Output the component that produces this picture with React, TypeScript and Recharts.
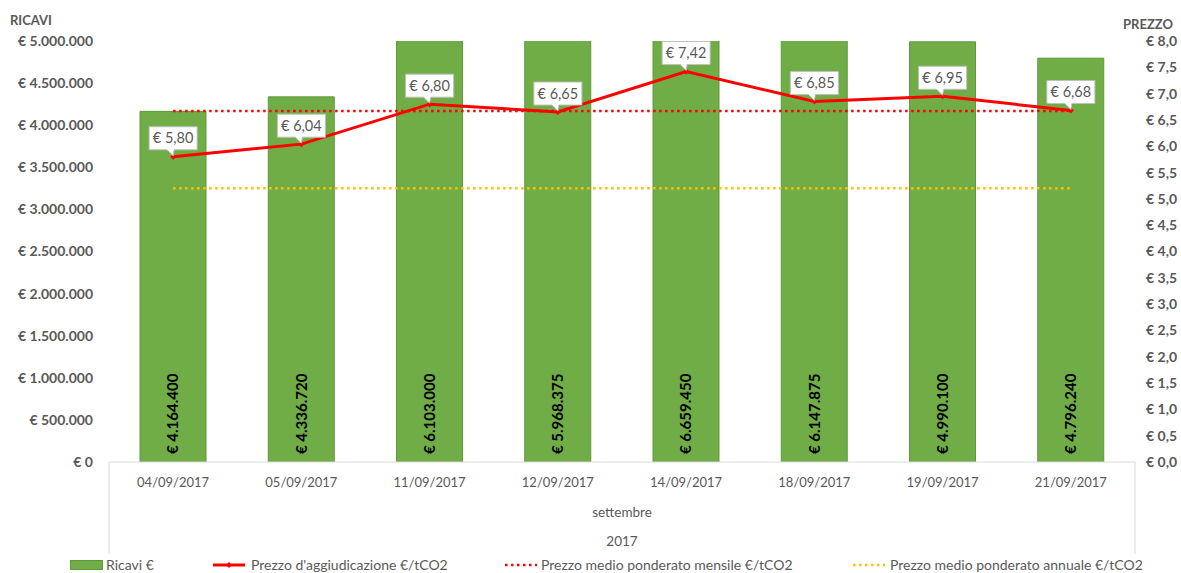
import { ComposedChart, Bar, Line, XAxis, YAxis, Legend, LabelList } from "recharts";

const dates = ["04/09/2017", "05/09/2017", "11/09/2017", "12/09/2017", "14/09/2017", "18/09/2017", "19/09/2017", "21/09/2017"];
const ricavi = [4164400, 4336720, 6103000, 5968375, 6659450, 6147875, 4990100, 4796240];
const prezzo = [5.8, 6.04, 6.8, 6.65, 7.42, 6.85, 6.95, 6.68];
const mediaMensile = [6.67, 6.67, 6.67, 6.67, 6.67, 6.67, 6.67, 6.67];
const mediaAnnuale = [5.2, 5.2, 5.2, 5.2, 5.2, 5.2, 5.2, 5.2];
const leftTicks = [0, 500000, 1000000, 1500000, 2000000, 2500000, 3000000, 3500000, 4000000, 4500000, 5000000];
const rightTicks = [0, 0.5, 1, 1.5, 2, 2.5, 3, 3.5, 4, 4.5, 5, 5.5, 6, 6.5, 7, 7.5, 8];
const mese = "settembre";
const anno = "2017";

const data = dates.map((d, i) => ({
  date: d,
  ricavi: ricavi[i],
  prezzo: prezzo[i],
  mensile: mediaMensile[i],
  annuale: mediaAnnuale[i],
}));

const GREY = "#595959";
const FONT = "Lato, 'Open Sans', sans-serif";

const dots = (v: number) => String(v).replace(/\B(?=(\d{3})+(?!\d))/g, ".");
const euro = (v: number) => "€ " + dots(v);
const euroDec = (d: number) => (v: number) => "€ " + v.toFixed(d).replace(".", ",");

const BarValue = (props: any) => {
  const { x, y, width, height, value } = props;
  const cx = x + width / 2;
  const bottom = y + height - 8;
  return (
    <text
      x={cx}
      y={bottom}
      transform={`rotate(-90 ${cx} ${bottom})`}
      dy="0.35em"
      fontSize={15}
      fontWeight="bold"
      fill="#000"
      fontFamily={FONT}
    >
      {euro(value)}
    </text>
  );
};

const Callout = (props: any) => {
  const { x, y, value } = props;
  const w = 48;
  const h = 23;
  const bottom = y - 7;
  const top = bottom - h;
  return (
    <g>
      <path
        d={`M${x - w / 2},${top} H${x + w / 2} V${bottom} H${x + 1} L${x},${y - 1} L${x - 6},${bottom} H${x - w / 2} Z`}
        fill="#fff"
        stroke="#BFBFBF"
        strokeWidth={1}
      />
      <text x={x} y={top + h / 2} dy="0.35em" textAnchor="middle" fontSize={14.5} fill={GREY} fontFamily={FONT}>
        {euroDec(2)(value)}
      </text>
    </g>
  );
};

const Diamond = (props: any) => {
  const { cx, cy } = props;
  if (cx == null || cy == null) return null;
  return <polygon points={`${cx},${cy - 3} ${cx + 3},${cy} ${cx},${cy + 3} ${cx - 3},${cy}`} fill="#FF0000" />;
};

const AxisGroups = (props: any) => {
  const vb = props.viewBox || {};
  const { x, y, width } = vb;
  if (x == null) return null;
  return (
    <g>
      <line x1={x} y1={y} x2={x} y2={y + 92} stroke="#D9D9D9" />
      <line x1={x + width} y1={y} x2={x + width} y2={y + 92} stroke="#D9D9D9" />
      <text x={x + width / 2} y={y + 50} dy="0.35em" textAnchor="middle" fontSize={13.5} fill={GREY} fontFamily={FONT}>
        {mese}
      </text>
      <text x={x + width / 2} y={y + 79} dy="0.35em" textAnchor="middle" fontSize={13.5} fill={GREY} fontFamily={FONT}>
        {anno}
      </text>
    </g>
  );
};

const AxisTitle = (text: string, dx: number, dy: number, anchor: string) => (props: any) => {
  const vb = props.viewBox || {};
  if (vb.x == null) return null;
  return (
    <text x={vb.x + dx} y={vb.y + dy} textAnchor={anchor} fontSize={13} fontWeight="bold" fill={GREY} fontFamily={FONT}>
      {text}
    </text>
  );
};

const legendItems = [
  { name: "Ricavi €", kind: "bar", color: "#70AD47", icon: 70, text: 106 },
  { name: "Prezzo d'aggiudicazione €/tCO2", kind: "line", color: "#FF0000", icon: 213, text: 251 },
  { name: "Prezzo medio ponderato mensile €/tCO2", kind: "dot", color: "#FF0000", icon: 505, text: 541 },
  { name: "Prezzo medio ponderato annuale €/tCO2", kind: "dot", color: "#FFC000", icon: 853, text: 890 },
];

const LegendBox = () => (
  <div style={{ position: "relative", width: 1181, height: 16, fontFamily: FONT, fontSize: 14, color: GREY }}>
    {legendItems.map((it) => (
      <div key={it.name}>
        <svg style={{ position: "absolute", left: it.icon, top: 3 }} width={34} height={12}>
          {it.kind === "bar" && <rect x={0.5} y={1.5} width={32} height={9} fill={it.color} stroke="#5E9A3A" />}
          {it.kind === "line" && (
            <g>
              <line x1={0} y1={6} x2={32} y2={6} stroke={it.color} strokeWidth={3} />
              <polygon points="16,3 19,6 16,9 13,6" fill={it.color} />
            </g>
          )}
          {it.kind === "dot" && (
            <line x1={0} y1={6} x2={32} y2={6} stroke={it.color} strokeWidth={2.5} strokeDasharray="2.5 3.5" />
          )}
        </svg>
        <span style={{ position: "absolute", left: it.text, top: 1, lineHeight: "16px", whiteSpace: "nowrap" }}>
          {it.name}
        </span>
      </div>
    ))}
  </div>
);

export default function App() {
  return (
    <div style={{ width: 1181, height: 573, fontFamily: FONT, background: "#fff" }}>
      <style>{`html,body{margin:0;padding:0;overflow:hidden}`}</style>
      <ComposedChart
        width={1181}
        height={573}
        data={data}
        margin={{ top: 41, right: 0, left: 0, bottom: 1 }}
        style={{ fontFamily: FONT }}
      >
        <XAxis
          dataKey="date"
          height={94}
          axisLine={{ stroke: "#D9D9D9" }}
          tickLine={false}
          tick={{ fontSize: 13, fill: GREY, fontFamily: FONT }}
          tickMargin={10}
          interval={0}
          label={{ content: AxisGroups }}
        />
        <YAxis
          yAxisId="left"
          width={109}
          domain={[0, 5000000]}
          ticks={leftTicks}
          allowDataOverflow
          axisLine={false}
          tickLine={false}
          tickSize={0}
          tickMargin={16}
          tickFormatter={euro}
          tick={{ fontSize: 14, fill: GREY, fontWeight: "bold", fontFamily: FONT }}
          label={{ content: AxisTitle("RICAVI", 10, -16, "start") }}
        />
        <YAxis
          yAxisId="right"
          orientation="right"
          width={46}
          domain={[0, 8]}
          ticks={rightTicks}
          axisLine={false}
          tickLine={false}
          tickSize={0}
          tickMargin={11}
          tickFormatter={euroDec(1)}
          tick={{ fontSize: 14, fill: GREY, fontWeight: "bold", fontFamily: FONT }}
          label={{ content: AxisTitle("PREZZO", 38, -12, "end") }}
        />
        <Legend verticalAlign="bottom" content={LegendBox} wrapperStyle={{ left: 0, width: 1181, height: 16 }} />
        <Bar
          yAxisId="left"
          dataKey="ricavi"
          name="Ricavi €"
          barSize={66}
          fill="#70AD47"
          stroke="#5E9A3A"
          strokeWidth={1}
          isAnimationActive={false}
        >
          <LabelList dataKey="ricavi" content={BarValue} />
        </Bar>
        <Line
          yAxisId="right"
          dataKey="mensile"
          name="Prezzo medio ponderato mensile €/tCO2"
          stroke="#FF0000"
          strokeWidth={2.5}
          strokeDasharray="2.5 3.5"
          dot={false}
          activeDot={false}
          isAnimationActive={false}
        />
        <Line
          yAxisId="right"
          dataKey="annuale"
          name="Prezzo medio ponderato annuale €/tCO2"
          stroke="#FFC000"
          strokeWidth={2.5}
          strokeDasharray="2.5 3.5"
          dot={false}
          activeDot={false}
          isAnimationActive={false}
        />
        <Line
          yAxisId="right"
          dataKey="prezzo"
          name="Prezzo d'aggiudicazione €/tCO2"
          stroke="#FF0000"
          strokeWidth={3}
          dot={<Diamond />}
          activeDot={false}
          isAnimationActive={false}
        >
          <LabelList dataKey="prezzo" content={Callout} />
        </Line>
      </ComposedChart>
    </div>
  );
}
